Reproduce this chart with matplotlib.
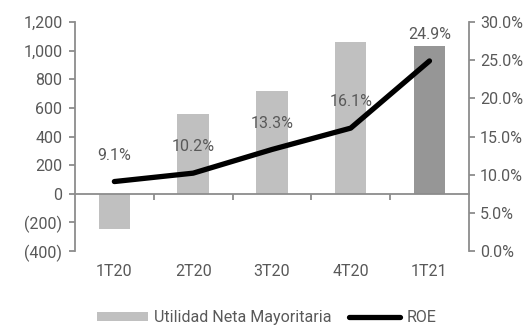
import numpy as np
import matplotlib
matplotlib.use("Agg")
import matplotlib.pyplot as plt
from matplotlib.transforms import blended_transform_factory

plt.rcParams['font.family'] = ['Roboto', 'DejaVu Sans']

# data
quarters = ['1T20', '2T20', '3T20', '4T20', '1T21']
utilidad = [-245, 556, 717, 1062, 1032]
roe = [9.1, 10.2, 13.3, 16.1, 24.9]
bar_colors = ['#c0c0c0', '#c0c0c0', '#c0c0c0', '#c0c0c0', '#969696']

txt = '#595959'
axcol = '#8c8c8c'
fs = 11.5

fig = plt.figure(figsize=(5.28, 3.26), dpi=100)
ax = fig.add_axes([0.142, 0.23, 0.746, 0.7025])
ax2 = ax.twinx()

x = np.arange(len(quarters))
ax.bar(x, utilidad, width=0.4, color=bar_colors, zorder=2,
       label='Utilidad Neta Mayoritaria')
ax.set_ylim(-400, 1200)
ax.set_xlim(-0.5, len(quarters) - 0.5)
ax.set_yticks(np.arange(-400, 1201, 200))
ax.set_yticklabels(['({:,})'.format(-v) if v < 0 else '{:,}'.format(v)
                    for v in range(-400, 1201, 200)])

ax2.plot(x, roe, color='black', lw=3.8, solid_capstyle='round', zorder=3,
         label='ROE')
ax2.set_ylim(0, 30)
ax2.set_yticks(np.arange(0, 31, 5))
ax2.set_yticklabels(['{:.1f}%'.format(v) for v in range(0, 31, 5)])
for xi, r in zip(x, roe):
    ax2.annotate('{:.1f}%'.format(r), (xi, r), xytext=(0, 19),
                 textcoords='offset points', ha='center', va='center',
                 fontsize=fs, color=txt)

# axes styling
for a in (ax, ax2):
    a.spines['top'].set_visible(False)
    for s in a.spines.values():
        s.set_color(axcol)
        s.set_linewidth(1.3)
ax.spines['right'].set_visible(False)
ax2.spines['left'].set_visible(False)
ax2.spines['bottom'].set_visible(False)
ax.spines['bottom'].set_position(('data', 0))

ax.tick_params(axis='y', direction='out', length=4, width=1.3, color=axcol,
               labelcolor=txt, labelsize=fs, pad=5)
ax2.tick_params(axis='y', direction='out', length=4, width=1.3, color=axcol,
                labelcolor=txt, labelsize=fs, pad=4)
ax.set_xticks(x)
ax.set_xticklabels([])
ax.tick_params(axis='x', which='major', length=0)
ax.set_xticks(np.arange(0.5, len(quarters) - 1, 1), minor=True)
ax.tick_params(axis='x', which='minor', direction='out', length=4,
               width=1.3, color=axcol)

trans = blended_transform_factory(ax.transData, ax.transAxes)
for xi, q in zip(x, quarters):
    ax.text(xi, -0.09, q, transform=trans, ha='center', va='center',
            fontsize=fs, color=txt)

h1, l1 = ax.get_legend_handles_labels()
h2, l2 = ax2.get_legend_handles_labels()
leg = fig.legend(h1 + h2, l1 + l2, loc='center', ncol=2,
                 bbox_to_anchor=(0.505, 0.025), frameon=False, fontsize=fs,
                 handlelength=3.2, handleheight=0.5, columnspacing=1.1,
                 handletextpad=0.4)
for t in leg.get_texts():
    t.set_color(txt)

fig.savefig('out.png', dpi=100)
